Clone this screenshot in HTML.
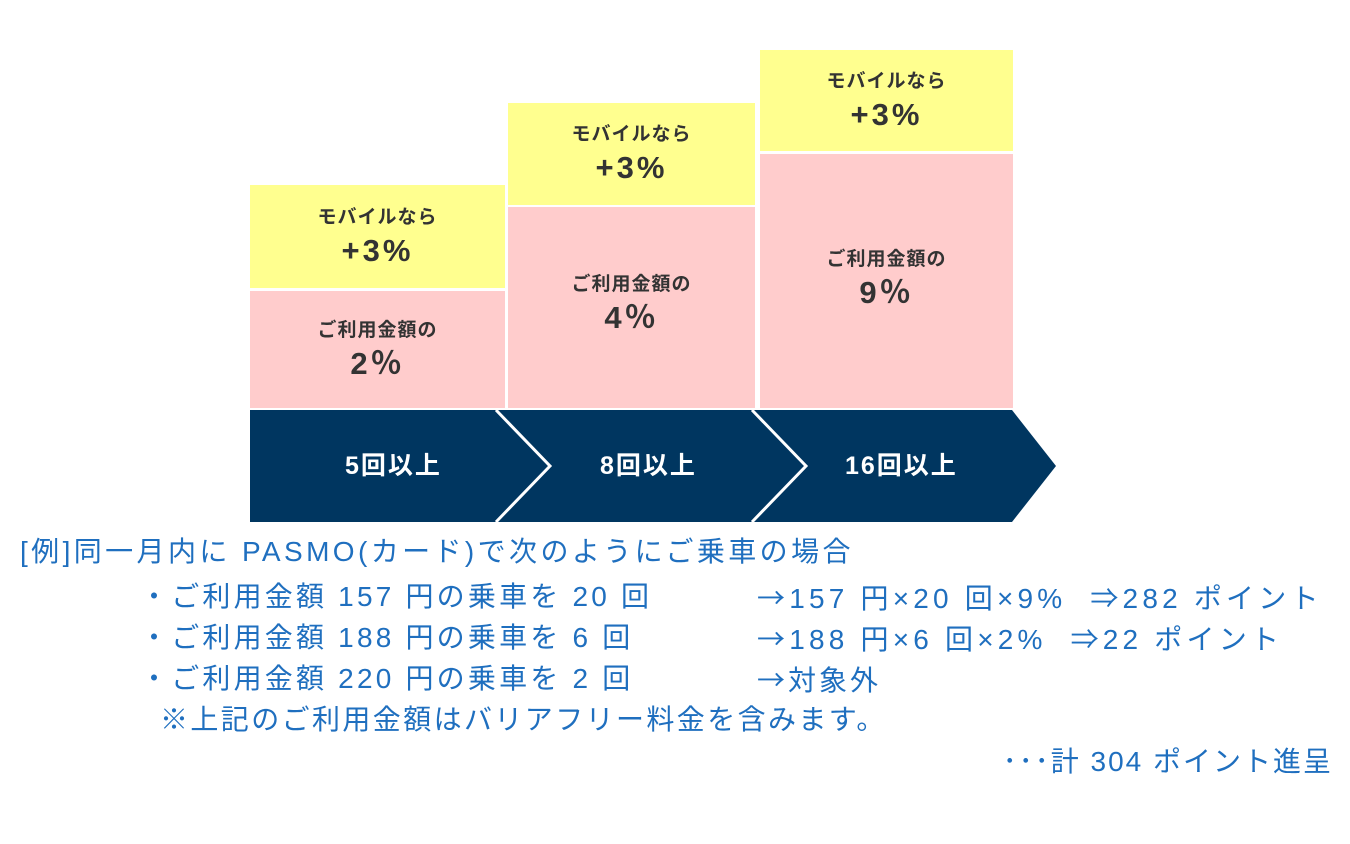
<!DOCTYPE html>
<html><head><meta charset="utf-8"><style>
body{margin:0;width:1350px;height:844px;background:#fff;position:relative;overflow:hidden;font-family:"Liberation Sans","Noto Sans CJK JP",sans-serif}
.b{position:absolute;display:flex;flex-direction:column;align-items:center;justify-content:center;color:#333;font-weight:bold}
.y{background:#ffff8f}.p{background:#ffcccc}
.s{font-size:19px;line-height:28px;letter-spacing:1px}.l{font-size:31px;line-height:38px;letter-spacing:3px}
.t{position:absolute;color:#1f6fbf;font-size:28px;white-space:nowrap;line-height:34px}
.a{font-family:"Noto Sans CJK JP",sans-serif}
.lab{position:absolute;color:#fff;font-weight:bold;font-size:25px;top:446px;letter-spacing:2px}
</style></head><body>
<div class="b y" style="left:250px;top:185px;width:255px;height:103px"><div class="s">モバイルなら</div><div class="l">+3%</div></div>
<div class="b p" style="left:250px;top:291px;width:255px;height:117px"><div class="s">ご利用金額の</div><div class="l">2％</div></div>
<div class="b y" style="left:508px;top:103px;width:247px;height:102px"><div class="s">モバイルなら</div><div class="l">+3%</div></div>
<div class="b p" style="left:508px;top:207px;width:247px;height:201px;justify-content:flex-start"><div class="s" style="margin-top:64px">ご利用金額の</div><div class="l">4％</div></div>
<div class="b y" style="left:760px;top:50px;width:253px;height:101px"><div class="s">モバイルなら</div><div class="l">+3%</div></div>
<div class="b p" style="left:760px;top:154px;width:253px;height:254px;justify-content:flex-start"><div class="s" style="margin-top:92px">ご利用金額の</div><div class="l">9％</div></div>
<svg style="position:absolute;left:0;top:0" width="1350" height="844">
<polygon points="250,410 1012,410 1056,466 1012,522 250,522" fill="#003660"/>
<polyline points="496,410 550,466 496,522" fill="none" stroke="#fff" stroke-width="3"/>
<polyline points="752,410 806,466 752,522" fill="none" stroke="#fff" stroke-width="3"/>
</svg>
<div class="lab" style="left:345px">5回以上</div>
<div class="lab" style="left:600px">8回以上</div>
<div class="lab" style="left:845px">16回以上</div>
<div class="t" style="left:20px;top:535px;letter-spacing:3.4px">[例]同一月内に PASMO(カード)で次のようにご乗車の場合</div>
<div class="t" style="left:140px;top:580px;letter-spacing:3.2px">・ご利用金額 157 円の乗車を 20 回</div>
<div class="t" style="left:757px;top:580px;letter-spacing:4.2px"><span class="a">→</span>157 円×20 回×9%&nbsp;&nbsp;⇒282 ポイント</div>
<div class="t" style="left:140px;top:621px;letter-spacing:3.2px">・ご利用金額 188 円の乗車を 6 回</div>
<div class="t" style="left:757px;top:621px;letter-spacing:4.2px"><span class="a">→</span>188 円×6 回×2%&nbsp;&nbsp;⇒22 ポイント</div>
<div class="t" style="left:140px;top:662px;letter-spacing:3.2px">・ご利用金額 220 円の乗車を 2 回</div>
<div class="t" style="left:757px;top:662px;letter-spacing:3px"><span class="a">→</span>対象外</div>
<div class="t" style="left:160px;top:703px;letter-spacing:2.4px">※上記のご利用金額はバリアフリー料金を含みます。</div>
<div class="t" style="right:17px;top:745px;letter-spacing:2px">･･･計 304 ポイント進呈</div>
</body></html>
